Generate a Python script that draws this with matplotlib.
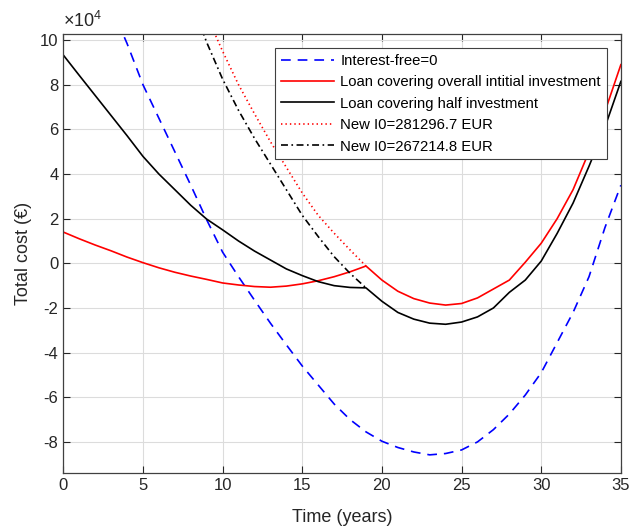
import numpy as np
import matplotlib
matplotlib.use("Agg")
import matplotlib.pyplot as plt
from matplotlib.ticker import FuncFormatter

plt.rcParams['font.family'] = ['Liberation Sans', 'DejaVu Sans']
plt.rcParams['mathtext.fontset'] = 'custom'
plt.rcParams['mathtext.rm'] = 'Liberation Sans'
plt.rcParams['axes.unicode_minus'] = False
plt.rcParams['lines.scale_dashes'] = False

# values, in units of 1e4 EUR
years = np.arange(0, 36)
years_blue = np.arange(3, 36)
years_new1 = np.arange(9, 20)
years_new2 = np.arange(8, 20)

cost_free = [11.5, 9.85, 8.0, 6.5, 5.0, 3.5, 1.95, 0.5, -0.6, -1.65, -2.68,
             -3.65, -4.6, -5.45, -6.3, -7.0, -7.55, -7.97, -8.25, -8.45, -8.58,
             -8.52, -8.36, -8.0, -7.45, -6.75, -5.9, -4.9, -3.55, -2.2, -0.6,
             1.6, 3.5]
cost_full = [1.4, 1.1, 0.82, 0.56, 0.28, 0.03, -0.2, -0.4, -0.57, -0.72, -0.88,
             -0.97, -1.04, -1.07, -1.02, -0.92, -0.78, -0.6, -0.38, -0.12,
             -0.75, -1.25, -1.58, -1.78, -1.87, -1.8, -1.55, -1.15, -0.75,
             0.05, 0.9, 2.0, 3.3, 5.0, 6.8, 8.9]
cost_half = [9.33, 8.42, 7.52, 6.62, 5.72, 4.79, 4.0, 3.3, 2.6, 1.98, 1.5,
             1.0, 0.55, 0.15, -0.25, -0.55, -0.82, -1.0, -1.08, -1.1,
             -1.7, -2.2, -2.5, -2.68, -2.73, -2.63, -2.4, -2.0, -1.3, -0.75,
             0.1, 1.34, 2.7, 4.35, 6.1, 8.15]
cost_new1 = [11.1, 9.5, 8.0, 6.7, 5.45, 4.3, 3.15, 2.15, 1.35, 0.6, -0.12]
cost_new2 = [11.8, 9.9, 8.25, 6.85, 5.6, 4.45, 3.3, 2.15, 1.2, 0.3, -0.45, -1.1]

labels = ['Interest-free=0', 'Loan covering overall intitial investment',
          'Loan covering half investment', 'New I0=281296.7 EUR',
          'New I0=267214.8 EUR']

fig = plt.figure(figsize=(6.3, 5.26), dpi=100)
ax = fig.add_axes([0.1005, 0.1013, 0.885, 0.8335])

scale = 1e4
ax.plot(years_blue, np.array(cost_free) * scale, color=(0, 0, 1), lw=1.2,
        linestyle=(0, (7, 5)), label=labels[0])
ax.plot(years, np.array(cost_full) * scale, color=(1, 0, 0), lw=1.2, label=labels[1])
ax.plot(years, np.array(cost_half) * scale, color='black', lw=1.2, label=labels[2])
ax.plot(years_new1, np.array(cost_new1) * scale, color=(1, 0, 0), lw=1.2,
        linestyle=(0, (1, 2.2)), label=labels[3])
ax.plot(years_new2, np.array(cost_new2) * scale, color='black', lw=1.2,
        linestyle=(0, (5, 2.5, 1.2, 2.5)), label=labels[4])

ax.set_xlim(0, 35)
ax.set_ylim(-9.38e4, 10.26e4)
ax.set_xticks(np.arange(0, 36, 5))
ax.set_yticks(np.arange(-8, 11, 2) * scale)
ax.yaxis.set_major_formatter(FuncFormatter(lambda v, p: '%g' % (v / scale)))
ax.text(0, 1.008, r'$\times10^4$', transform=ax.transAxes, fontsize=13,
        color='#262626', ha='left', va='bottom')

ax.grid(True, color='#dcdcdc', lw=0.8)
ax.set_axisbelow(True)
for s in ax.spines.values():
    s.set_color('#404040')
    s.set_linewidth(0.9)
ax.tick_params(direction='in', top=True, right=True, labelsize=12,
               colors='#262626', length=5, width=0.8)

ax.set_xlabel('Time (years)', fontsize=13, color='#262626', labelpad=12)
ax.set_ylabel('Total cost (€)', fontsize=13, color='#262626', labelpad=6)

leg = ax.legend(loc='upper right', bbox_to_anchor=(0.975, 0.969),
                borderaxespad=0, fontsize=10.7, handlelength=3.6,
                handletextpad=0.4, labelspacing=0.5, fancybox=False,
                framealpha=1, edgecolor='#404040')
leg.get_frame().set_linewidth(0.8)

fig.savefig('out.png', dpi=100)
